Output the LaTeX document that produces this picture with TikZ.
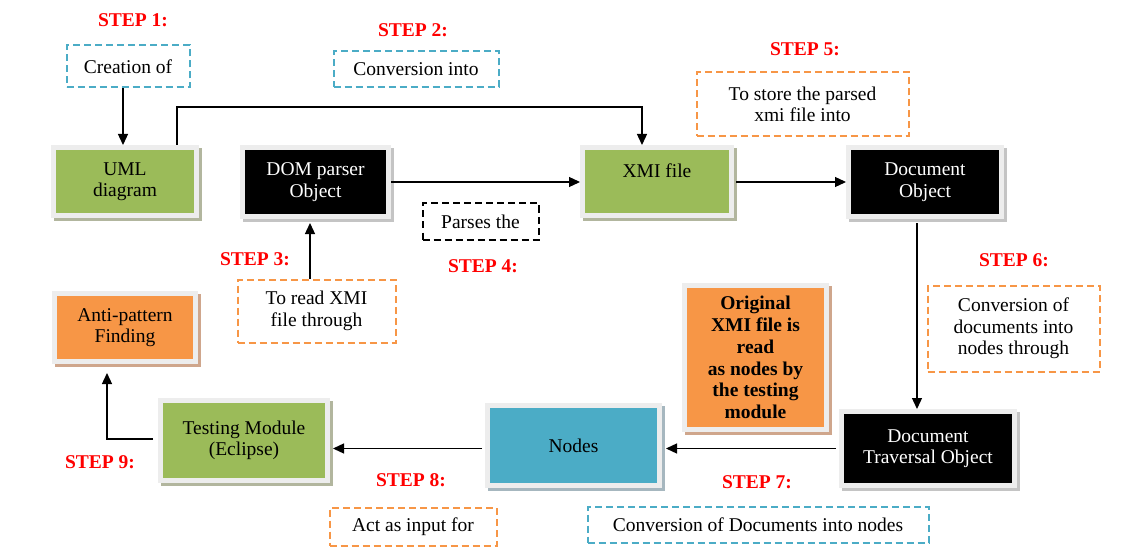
\documentclass[tikz,border=0pt]{standalone}
\usepackage{fontspec}
\setmainfont{Liberation Serif}
\usetikzlibrary{arrows.meta,shadows}
\definecolor{cgreen}{HTML}{9BBB59}
\definecolor{corange}{HTML}{F79646}
\definecolor{cblue}{HTML}{4BACC6}
\definecolor{cframe}{HTML}{EDEDED}
\definecolor{sgreen}{HTML}{B2B69E}
\definecolor{sblack}{HTML}{C4C4C4}
\definecolor{sorange}{HTML}{CFA68C}
\definecolor{sblue}{HTML}{A6B7BF}
\definecolor{stepred}{HTML}{FF0000}
\begin{document}
\begin{tikzpicture}[x=1pt,y=-1pt,
  txt/.style={font=\fontsize{19.5}{21.5}\selectfont},
  box/.style={txt, draw=cframe, line width=5pt, inner sep=2pt, align=center},
  shad/.style={general shadow={draw=#1, fill=#1, line width=5pt, shadow xshift=3pt, shadow yshift=-3pt}},
  greenbox/.style={box, fill=cgreen, shad=sgreen},
  blackbox/.style={box, fill=black, text=white, shad=sblack},
  orangebox/.style={box, fill=corange, shad=sorange},
  bluebox/.style={box, fill=cblue, shad=sblue},
  note/.style={txt, line width=2pt, dash pattern=on 7pt off 4pt, inner sep=2pt, align=center},
  bluenote/.style={note, draw=cblue},
  orangenote/.style={note, draw=corange},
  blacknote/.style={note, draw=black},
  steplabel/.style={txt, font=\fontsize{19.5}{21.5}\selectfont\bfseries, text=stepred},
  arr/.style={line width=1.3pt, -{Triangle[length=11pt,width=10pt]}},
]
\useasboundingbox[fill=white] (0,0) rectangle (1144,559);

% main boxes
\node[greenbox, minimum width=143, minimum height=68] (uml) at (125,181.5) {UML\\diagram};
\node[blackbox, minimum width=146, minimum height=69] (dom) at (315.5,182) {DOM parser\\Object};
\node[greenbox, minimum width=149, minimum height=68] (xmi) at (657,181.5) {XMI file\\\mbox{}};
\node[blackbox, minimum width=153, minimum height=69] (doc) at (925,182) {Document\\Object};
\node[blackbox, minimum width=173, minimum height=74] (dto) at (928,448.5) {Document\\Traversal Object};
\node[bluebox, minimum width=172, minimum height=80] (nodes) at (573.5,445.5) {Nodes};
\node[orangebox, minimum width=142, minimum height=144, font=\fontsize{19.5}{21.8}\selectfont\bfseries] (orig) at (755.5,357.5) {Original\\XMI file is\\read\\as nodes by\\the testing\\module};
\node[greenbox, minimum width=167, minimum height=80] (test) at (244,440.5) {Testing Module\\(Eclipse)};
\node[orangebox, minimum width=141, minimum height=68] (anti) at (125,327.5) {Anti-pattern\\Finding};

% dashed notes
\node[bluenote, minimum width=123, minimum height=42] (c1) at (128,66.5) {Creation of};
\node[bluenote, minimum width=165, minimum height=36] (c2) at (416,69.5) {Conversion into};
\node[orangenote, minimum width=158, minimum height=63] (c3) at (316.5,311) {To read XMI\\file through};
\node[blacknote, minimum width=116, minimum height=36] (c4) at (480.5,221.5) {Parses the};
\node[orangenote, minimum width=212, minimum height=64] (c5) at (802.5,104.5) {To store the parsed\\xmi file into};
\node[orangenote, minimum width=172, minimum height=86] (c6) at (1013.5,328.5) {Conversion of\\documents into\\nodes through};
\node[bluenote, minimum width=341, minimum height=36] (c7) at (758,524.5) {Conversion of Documents into nodes};
\node[orangenote, minimum width=167, minimum height=38] (c8) at (413,526.5) {Act as input for};

% step labels
\node[steplabel] (s1) at (133,20) {STEP 1:};
\node[steplabel] (s2) at (413,30) {STEP 2:};
\node[steplabel] (s3) at (255,259) {STEP 3:};
\node[steplabel] (s4) at (483,266) {STEP 4:};
\node[steplabel] (s5) at (805,49) {STEP 5:};
\node[steplabel] (s6) at (1014,260) {STEP 6:};
\node[steplabel] (s7) at (757,482) {STEP 7:};
\node[steplabel] (s8) at (411,480) {STEP 8:};
\node[steplabel] (s9) at (100,462) {STEP 9:};

% connectors
\coordinate (j1) at (177,107);
\coordinate (j2) at (642,107);
\draw[arr] ([xshift=-2pt]uml.north |- c1.south) -- ([xshift=-2pt]uml.north);
\draw[arr] ([xshift=52pt]uml.north) -- (j1) -- (j2) -- ([xshift=-15pt]xmi.north);
\draw[arr] (dom.east) -- (dom.east -| xmi.west);
\draw[arr] ([xshift=2pt]xmi.east |- doc.west) -- (doc.west);
\draw[arr] ([xshift=-8pt,yshift=-4pt]doc.south) -- ([xshift=-8pt]doc.south |- dto.north);
\draw[arr] ([xshift=-3pt]dto.west) -- ([xshift=4pt]dto.west -| nodes.east);
\draw[arr] ([xshift=-3pt]nodes.west |- dto.west) -- ([xshift=3pt]test.east |- dto.west);
\draw[arr] ([xshift=-5pt,yshift=1.5pt]test.west) -| ([xshift=-18pt,yshift=-9pt]anti.south);
\draw[arr] ([xshift=-6.5pt]c3.north) -- ([xshift=-5.5pt,yshift=-4pt]dom.south);
\end{tikzpicture}
\end{document}
